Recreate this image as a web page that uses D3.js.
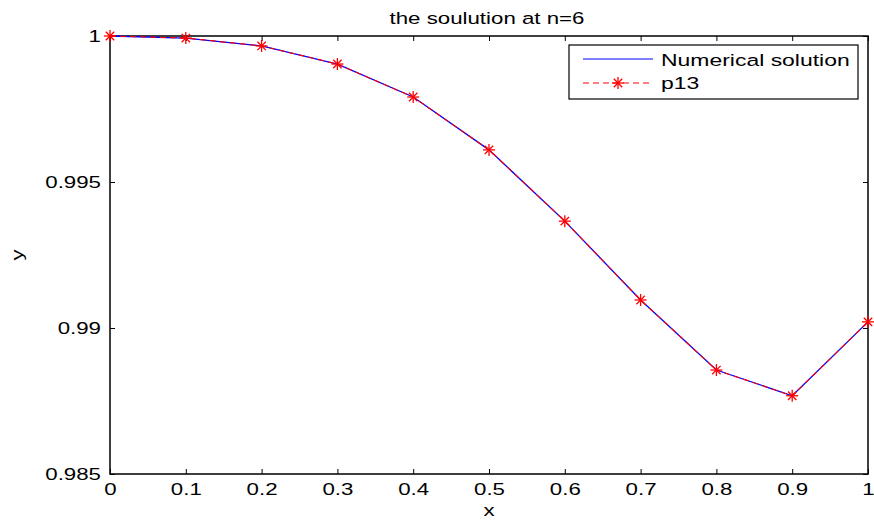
<!DOCTYPE html>
<html>
<head>
<meta charset="utf-8">
<script src="https://cdn.jsdelivr.net/npm/d3@7.9.0/dist/d3.min.js"></script>
<style>
  body { margin: 0; background: #fff; }
  svg { font-family: "Liberation Sans", Arial, sans-serif; }
</style>
</head>
<body>
<svg id="chart" width="874" height="522"></svg>
<script>
const xs = [0, 0.1, 0.2, 0.3, 0.4, 0.5, 0.6, 0.7, 0.8, 0.9, 1];
const numerical = [1.0, 0.99993, 0.99966, 0.99904, 0.99791, 0.99610, 0.99366, 0.99096, 0.98856, 0.98768, 0.99021];
const p13 = [1.0, 0.99993, 0.99966, 0.99904, 0.99791, 0.99610, 0.99366, 0.99096, 0.98856, 0.98768, 0.99021];
const xTicks = [0, 0.1, 0.2, 0.3, 0.4, 0.5, 0.6, 0.7, 0.8, 0.9, 1];
const yTicks = [0.985, 0.99, 0.995, 1];

const margin = { top: 36, right: 6, bottom: 48, left: 110 };
const width = 874 - margin.left - margin.right;
const height = 522 - margin.top - margin.bottom;
const sx = 1.35; // the original font is drawn wide

const svg = d3.select("#chart");
const g = svg.append("g").attr("transform", `translate(${margin.left},${margin.top})`);

const x = d3.scaleLinear().domain([0, 1]).range([0, width]);
const y = d3.scaleLinear().domain([0.985, 1]).range([height, 0]);

const tickLen = 5;
const fmt = d => String(+d.toFixed(3));

// inward ticks on all four sides
const bottom = g.append("g")
  .attr("transform", `translate(0,${height})`)
  .call(d3.axisBottom(x).tickValues(xTicks).tickSizeInner(-tickLen).tickSizeOuter(0).tickFormat(fmt));
bottom.selectAll(".tick text")
  .attr("y", 0).attr("dy", null)
  .attr("transform", `translate(0,21) scale(${sx},1)`);

g.append("g")
  .call(d3.axisTop(x).tickValues(xTicks).tickSizeInner(-tickLen).tickSizeOuter(0).tickFormat(""));

const left = g.append("g")
  .call(d3.axisLeft(y).tickValues(yTicks).tickSizeInner(-tickLen).tickSizeOuter(0).tickFormat(fmt));
left.selectAll(".tick text")
  .attr("x", 0)
  .attr("transform", `translate(-9,0) scale(${sx},1)`);

g.append("g")
  .attr("transform", `translate(${width},0)`)
  .call(d3.axisRight(y).tickValues(yTicks).tickSizeInner(-tickLen).tickSizeOuter(0).tickFormat(""));

g.selectAll(".domain").remove();
g.selectAll(".tick line").attr("stroke", "#000").attr("stroke-width", 1);
g.selectAll(".tick text").attr("fill", "#000").style("font-size", "16.5px");

g.append("rect")
  .attr("width", width).attr("height", height)
  .attr("fill", "none").attr("stroke", "#000").attr("stroke-width", 1.5);

const pts = xs.map((v, i) => ({ x: v, a: numerical[i], b: p13[i] }));

g.append("path")
  .datum(pts)
  .attr("fill", "none").attr("stroke", "#0000ff").attr("stroke-width", 1.3)
  .attr("d", d3.line().x(d => x(d.x)).y(d => y(d.a)));

g.append("path")
  .datum(pts)
  .attr("fill", "none").attr("stroke", "#ff0000").attr("stroke-width", 1.1)
  .attr("stroke-dasharray", "6,4")
  .attr("d", d3.line().x(d => x(d.x)).y(d => y(d.b)));

function star(sel, r) {
  const d = r * 0.7;
  sel.append("line").attr("x1", -r).attr("x2", r).attr("y1", 0).attr("y2", 0);
  sel.append("line").attr("x1", 0).attr("x2", 0).attr("y1", -r).attr("y2", r);
  sel.append("line").attr("x1", -d).attr("x2", d).attr("y1", -d).attr("y2", d);
  sel.append("line").attr("x1", -d).attr("x2", d).attr("y1", d).attr("y2", -d);
  sel.attr("stroke", "#ff0000").attr("stroke-width", 1.3);
}

g.selectAll(".mark")
  .data(pts)
  .join("g")
  .attr("class", "mark")
  .attr("transform", d => `translate(${x(d.x)},${y(d.b)})`)
  .each(function () { star(d3.select(this), 6); });

// wide text helper
function label(parent, tx, ty, txt, size, anchor, extra = "") {
  return parent.append("text")
    .attr("transform", `translate(${tx},${ty}) ${extra} scale(${sx},1)`)
    .attr("text-anchor", anchor)
    .style("font-size", size + "px")
    .text(txt);
}

label(svg, 487, 24, "the soulution at n=6", 16.5, "middle");
label(svg, margin.left + width / 2, 516, "x", 16.5, "middle");
label(svg, 23, margin.top + height / 2, "y", 16.5, "middle", "rotate(-90)");

// legend
const leg = svg.append("g").attr("transform", "translate(569,45)");
leg.append("rect").attr("width", 289).attr("height", 54)
  .attr("fill", "#fff").attr("stroke", "#000").attr("stroke-width", 1.2);
leg.append("line").attr("x1", 14).attr("x2", 84).attr("y1", 14).attr("y2", 14)
  .attr("stroke", "#0000ff").attr("stroke-width", 1.2);
label(leg, 92, 21, "Numerical solution", 17, "start");
leg.append("line").attr("x1", 14).attr("x2", 84).attr("y1", 38).attr("y2", 38)
  .attr("stroke", "#ff0000").attr("stroke-width", 1.2).attr("stroke-dasharray", "6,4");
leg.append("g").attr("transform", "translate(49,38)").call(s => star(s, 6));
label(leg, 92, 44, "p13", 17, "start");
</script>
</body>
</html>
